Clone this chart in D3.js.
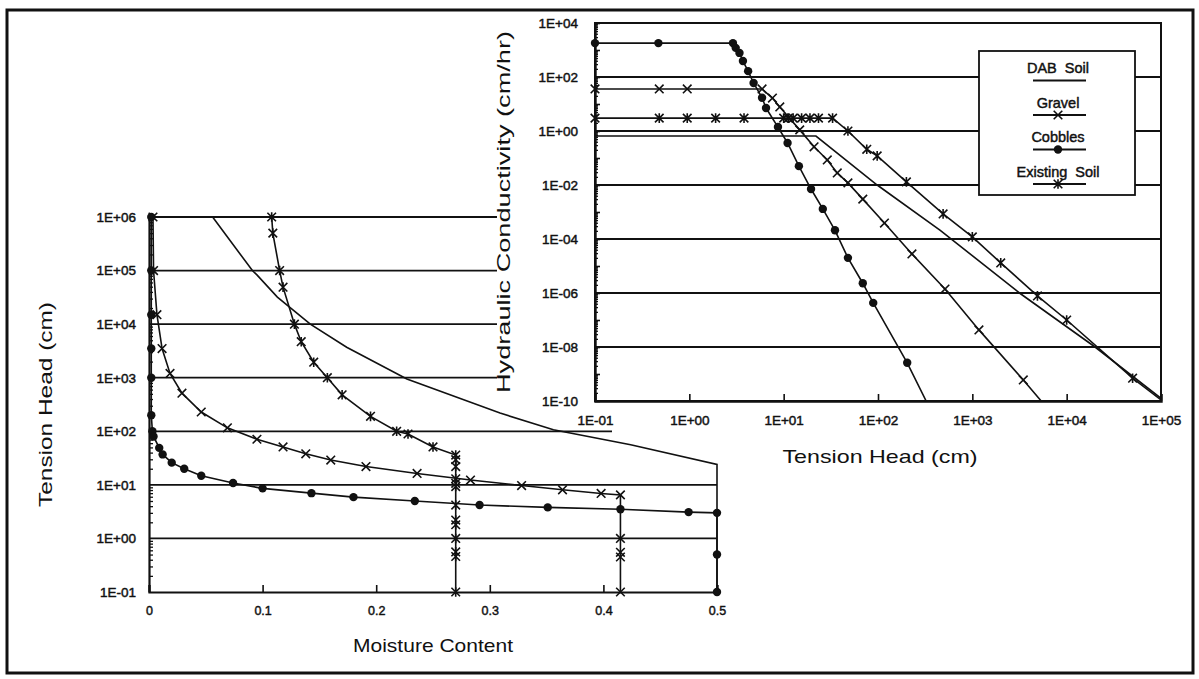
<!DOCTYPE html>
<html>
<head>
<meta charset="utf-8">
<script src="https://cdn.jsdelivr.net/npm/d3@7/dist/d3.min.js"></script>
<style>
  html, body { margin: 0; padding: 0; background: #fff; }
  svg { display: block; font-family: 'Liberation Sans', Arial, sans-serif; }
</style>
</head>
<body>
<div id="plot"></div>
<script>
// Moisture retention curves: [moisture content, tension head (cm)]
const dabRetention = [
  [0.056, 1e6], [0.091, 1e5], [0.095, 8.3e4], [0.113, 3.2e4], [0.142, 1e4], [0.174, 3.7e3],
  [0.227, 950], [0.309, 219], [0.356, 107], [0.424, 56], [0.5, 24], [0.5, 0.1]
];
const gravelRetention = [
  [0.0035, 1e6], [0.004, 1e5], [0.007, 1.5e4], [0.0115, 3.5e3], [0.0185, 1.2e3], [0.029, 515],
  [0.046, 229], [0.069, 116], [0.095, 71], [0.118, 51], [0.138, 38], [0.160, 29], [0.191, 22],
  [0.236, 16.3], [0.283, 12.3], [0.328, 9.7], [0.364, 8.1], [0.398, 6.9], [0.415, 6.5],
  [0.415, 1], [0.415, 0.55], [0.415, 0.45], [0.415, 0.1]
];
const cobblesRetention = [
  [0.002, 1e6], [0.002, 1e5], [0.002, 1.5e4], [0.002, 3.5e3], [0.002, 1e3], [0.002, 200],
  [0.003, 100], [0.004, 80], [0.009, 49], [0.012, 37], [0.02, 26], [0.031, 20], [0.046, 14.8],
  [0.074, 10.8], [0.1, 8.6], [0.143, 7.0], [0.18, 5.9], [0.234, 5.0], [0.291, 4.2], [0.351, 3.8],
  [0.415, 3.5], [0.475, 3.1], [0.5, 3.0], [0.5, 0.5], [0.5, 0.1]
];
const existingRetention = [
  [0.108, 1e6], [0.109, 5e5], [0.115, 1e5], [0.118, 4.9e4], [0.128, 1e4], [0.134, 4.7e3],
  [0.145, 1.95e3], [0.157, 1e3], [0.170, 480], [0.195, 190], [0.218, 100], [0.228, 89],
  [0.25, 51], [0.27, 36], [0.27, 29.5], [0.27, 22], [0.27, 13], [0.27, 10.7], [0.27, 9.3],
  [0.27, 4.2], [0.27, 2.2], [0.27, 1.8], [0.27, 1], [0.27, 0.56], [0.27, 0.46], [0.27, 0.1]
];

// Hydraulic conductivity curves: [tension head (cm), conductivity (cm/hr)]
// the last point of each is where the line leaves the plot (no marker)
const dabConductivity = [
  [0.1, 0.65], [22, 0.65], [98, 0.01], [457, 2.1e-4], [3160, 1e-6], [2e4, 1e-8], [1e5, 1.25e-10]
];
const gravelConductivity = [
  [0.1, 36], [0.48, 36], [0.95, 36], [5.9, 36], [7.6, 16.6], [9.1, 7.8], [14.8, 1.1], [21, 0.26],
  [29, 0.085], [37, 0.028], [48, 0.012], [69, 3.0e-3], [117, 3.9e-4], [229, 2.8e-5],
  [513, 1.4e-6], [1175, 4.3e-8], [3470, 6e-10], [5370, 1e-10]
];
const cobblesConductivity = [
  [0.1, 1800], [0.47, 1800], [2.9, 1800], [3.1, 1200], [3.4, 780], [3.7, 390], [4.2, 165],
  [4.8, 60], [5.9, 17], [6.5, 7.1], [8.7, 1.4], [11, 0.36], [14.5, 0.05], [19.5, 7.1e-3],
  [26, 1.3e-3], [35, 2.1e-4], [48, 2.0e-5], [69, 2.3e-6], [89, 4.3e-7], [204, 2.6e-9], [324, 1e-10]
];
const existingConductivity = [
  [0.1, 3.0], [0.48, 3.0], [0.95, 3.0], [1.9, 3.0], [3.8, 3.0], [10, 3.0], [11.2, 3.0],
  [12.6, 3.0], [15.5, 3.0], [19, 3.0], [23.4, 3.0], [33, 3.0], [48, 1.0], [76, 0.21], [98, 0.12],
  [200, 0.013], [490, 8.5e-4], [1000, 1.2e-4], [2000, 1.3e-5], [4900, 7.8e-7], [1e4, 1e-7],
  [5e4, 7e-10], [1e5, 1.1e-10]
];

const soilNames = ['DAB  Soil', 'Gravel', 'Cobbles', 'Existing  Soil'];
const soilMarkers = ['none', 'cross', 'dot', 'asterisk'];

// Tick values
const moistureTicks = [0, 0.1, 0.2, 0.3, 0.4, 0.5];
const tensionDecades = [1e-1, 1e0, 1e1, 1e2, 1e3, 1e4, 1e5, 1e6];
const headDecades = [1e-1, 1e0, 1e1, 1e2, 1e3, 1e4, 1e5];
const conductivityDecades = [1e-10, 1e-9, 1e-8, 1e-7, 1e-6, 1e-5, 1e-4, 1e-3, 1e-2, 1e-1, 1e0, 1e1, 1e2, 1e3, 1e4];
const conductivityLabels = [1e-10, 1e-8, 1e-6, 1e-4, 1e-2, 1e0, 1e2, 1e4];

const series = soilNames.map((name, i) => ({
  name,
  marker: soilMarkers[i],
  retention: [dabRetention, gravelRetention, cobblesRetention, existingRetention][i],
  conductivity: [dabConductivity, gravelConductivity, cobblesConductivity, existingConductivity][i]
}));

const INK = '#111';
const FONT = "'Liberation Sans', Arial, sans-serif";
const width = 1199, height = 679;

function fmtE(v) {
  const e = Math.round(Math.log10(v));
  return `1E${e < 0 ? '-' : '+'}${String(Math.abs(e)).padStart(2, '0')}`;
}

function minorValues(decades) {
  const out = [];
  decades.slice(0, -1).forEach((d) => {
    for (let m = 2; m <= 9; m++) out.push(d * m);
  });
  return out;
}

function drawMarker(g, type, x, y) {
  const s = 4.3;
  if (type === 'dot') {
    g.append('circle').attr('cx', x).attr('cy', y).attr('r', 4.2).attr('fill', INK);
  } else if (type === 'cross' || type === 'asterisk') {
    let d = `M${x - s},${y - s}L${x + s},${y + s}M${x - s},${y + s}L${x + s},${y - s}`;
    if (type === 'asterisk') d += `M${x},${y - s - 0.5}L${x},${y + s + 0.5}`;
    g.append('path').attr('d', d).attr('stroke', INK).attr('stroke-width', 1.6).attr('fill', 'none');
  }
}

// tick labels in the scan are heavy, thicken them a little
function styleTickText(sel, size) {
  sel.attr('font-family', FONT)
    .attr('font-size', size)
    .attr('fill', INK)
    .attr('stroke', INK)
    .attr('stroke-width', 0.45);
}

const svg = d3.select('#plot').append('svg')
  .attr('width', width)
  .attr('height', height);

svg.append('rect').attr('width', width).attr('height', height).attr('fill', '#fff');

// outer frame
svg.append('rect')
  .attr('x', 7).attr('y', 10).attr('width', 1186).attr('height', 663)
  .attr('fill', 'none').attr('stroke', INK).attr('stroke-width', 3);

// ---------------- Left chart: moisture retention ----------------
const L = { x0: 149, x1: 717, y0: 217, y1: 592 };
const xL = d3.scaleLinear().domain([0, 0.5]).range([L.x0, L.x1]);
const yL = d3.scaleLog().domain([0.1, 1e6]).range([L.y1, L.y0]);

const gl = svg.append('g').attr('class', 'retention');

gl.selectAll('line.grid')
  .data(tensionDecades.slice(1))
  .enter().append('line')
  .attr('class', 'grid')
  .attr('x1', L.x0).attr('x2', L.x1)
  .attr('y1', (d) => yL(d)).attr('y2', (d) => yL(d))
  .attr('stroke', INK).attr('stroke-width', 1.8);

gl.append('g')
  .attr('transform', `translate(${L.x0},0)`)
  .call(d3.axisLeft(yL).tickValues(minorValues(tensionDecades)).tickSize(-4).tickFormat(''))
  .call((a) => a.select('.domain').remove())
  .selectAll('line').attr('stroke', INK).attr('stroke-width', 1.3);

gl.append('g')
  .attr('transform', `translate(${L.x0},0)`)
  .call(d3.axisLeft(yL).tickValues(tensionDecades).tickSize(0).tickPadding(13).tickFormat(fmtE))
  .call((a) => a.select('.domain').attr('stroke', INK).attr('stroke-width', 2.2))
  .selectAll('text')
  .call(styleTickText, 13.5);

gl.append('g')
  .attr('transform', `translate(0,${L.y1})`)
  .call(d3.axisBottom(xL).tickValues(moistureTicks).tickSize(-7).tickPadding(14)
    .tickFormat((d) => (d === 0 ? '0' : d.toFixed(1))))
  .call((a) => a.select('.domain').attr('stroke', INK).attr('stroke-width', 2.2))
  .call((a) => a.selectAll('line').attr('stroke', INK).attr('stroke-width', 1.6))
  .selectAll('text')
  .call(styleTickText, 12.5);

const lineL = d3.line().x((d) => xL(d[0])).y((d) => yL(d[1]));

series.forEach((s) => {
  gl.append('path')
    .attr('d', lineL(s.retention))
    .attr('fill', 'none').attr('stroke', INK).attr('stroke-width', 1.6);
  s.retention.forEach((d) => drawMarker(gl, s.marker, xL(d[0]), yL(d[1])));
});

gl.append('text')
  .attr('transform', `translate(52,${(L.y0 + L.y1) / 2}) rotate(-90)`)
  .attr('text-anchor', 'middle')
  .attr('font-size', 19)
  .attr('textLength', 205).attr('lengthAdjust', 'spacingAndGlyphs')
  .attr('fill', INK)
  .text('Tension Head (cm)');

gl.append('text')
  .attr('x', (L.x0 + L.x1) / 2).attr('y', 652)
  .attr('text-anchor', 'middle')
  .attr('font-size', 19)
  .attr('textLength', 160).attr('lengthAdjust', 'spacingAndGlyphs')
  .attr('fill', INK)
  .text('Moisture Content');

// ---------------- Right chart: hydraulic conductivity ----------------
const R = { x0: 595, x1: 1161, y0: 23, y1: 401 };
const xR = d3.scaleLog().domain([0.1, 1e5]).range([R.x0, R.x1]);
const yR = d3.scaleLog().domain([1e-10, 1e4]).range([R.y1, R.y0]);

// the second chart sits on top of the first with its own white chart area
const panel = [[497, 13], [1180, 13], [1180, 476], [720, 476], [720, 436], [612, 436], [612, 407], [497, 407]];
svg.append('path')
  .attr('d', d3.line()(panel) + 'Z')
  .attr('fill', '#fff');

const gr = svg.append('g').attr('class', 'conductivity');

gr.append('defs').append('clipPath').attr('id', 'clipR')
  .append('rect')
  .attr('x', R.x0).attr('y', R.y0).attr('width', R.x1 - R.x0).attr('height', R.y1 - R.y0);

gr.selectAll('line.grid')
  .data(conductivityLabels.slice(1, -1))
  .enter().append('line')
  .attr('class', 'grid')
  .attr('x1', R.x0).attr('x2', R.x1)
  .attr('y1', (d) => yR(d)).attr('y2', (d) => yR(d))
  .attr('stroke', INK).attr('stroke-width', 1.8);

gr.append('rect')
  .attr('x', R.x0).attr('y', R.y0).attr('width', R.x1 - R.x0).attr('height', R.y1 - R.y0)
  .attr('fill', 'none').attr('stroke', INK).attr('stroke-width', 2);

gr.append('g')
  .attr('transform', `translate(${R.x0},0)`)
  .call(d3.axisLeft(yR).tickValues(minorValues(conductivityDecades)).tickSize(-3).tickFormat(''))
  .call((a) => a.select('.domain').remove())
  .selectAll('line').attr('stroke', INK).attr('stroke-width', 1.3);

gr.append('g')
  .attr('transform', `translate(${R.x0},0)`)
  .call(d3.axisLeft(yR).tickValues(conductivityDecades).tickSize(-5).tickFormat(''))
  .call((a) => a.select('.domain').remove())
  .selectAll('line').attr('stroke', INK).attr('stroke-width', 1.6);

gr.append('g')
  .attr('transform', `translate(${R.x0},0)`)
  .call(d3.axisLeft(yR).tickValues(conductivityLabels).tickSize(0).tickPadding(17).tickFormat(fmtE))
  .call((a) => a.select('.domain').attr('stroke', INK).attr('stroke-width', 2.4))
  .selectAll('text')
  .call(styleTickText, 13.5);

gr.append('g')
  .attr('transform', `translate(0,${R.y1})`)
  .call(d3.axisBottom(xR).tickValues(headDecades).tickSize(-7).tickPadding(14).tickFormat(fmtE))
  .call((a) => a.select('.domain').attr('stroke', INK).attr('stroke-width', 2.4))
  .call((a) => a.selectAll('line').attr('stroke', INK).attr('stroke-width', 1.6))
  .selectAll('text')
  .call(styleTickText, 13.5);

const lineR = d3.line().x((d) => xR(d[0])).y((d) => yR(d[1]));
const curvesR = gr.append('g').attr('clip-path', 'url(#clipR)');

series.forEach((s) => {
  curvesR.append('path')
    .attr('d', lineR(s.conductivity))
    .attr('fill', 'none').attr('stroke', INK).attr('stroke-width', 1.6);
  s.conductivity.slice(0, -1).forEach((d) => drawMarker(gr, s.marker, xR(d[0]), yR(d[1])));
});

gr.append('text')
  .attr('transform', `translate(510,${(R.y0 + R.y1) / 2}) rotate(-90)`)
  .attr('text-anchor', 'middle')
  .attr('font-size', 18)
  .attr('textLength', 362).attr('lengthAdjust', 'spacingAndGlyphs')
  .attr('fill', INK)
  .text('Hydraulic Conductivity (cm/hr)');

gr.append('text')
  .attr('x', 880).attr('y', 463)
  .attr('text-anchor', 'middle')
  .attr('font-size', 19)
  .attr('textLength', 195).attr('lengthAdjust', 'spacingAndGlyphs')
  .attr('fill', INK)
  .text('Tension Head (cm)');

// legend
const legend = gr.append('g').attr('class', 'legend');
legend.append('rect')
  .attr('x', 979).attr('y', 51).attr('width', 156).attr('height', 144)
  .attr('fill', '#fff').attr('stroke', INK).attr('stroke-width', 1.8);

series.forEach((s, i) => {
  const cy = 68 + i * 34.5;
  legend.append('text')
    .attr('x', 1058).attr('y', cy + 5)
    .attr('text-anchor', 'middle')
    .attr('xml:space', 'preserve')
    .style('white-space', 'pre')
    .call(styleTickText, 14.5)
    .text(s.name);
  legend.append('line')
    .attr('x1', 1033).attr('x2', 1086)
    .attr('y1', cy + 12.5).attr('y2', cy + 12.5)
    .attr('stroke', INK).attr('stroke-width', 2);
  drawMarker(legend, s.marker, 1058, cy + 12.5);
});
</script>
</body>
</html>
